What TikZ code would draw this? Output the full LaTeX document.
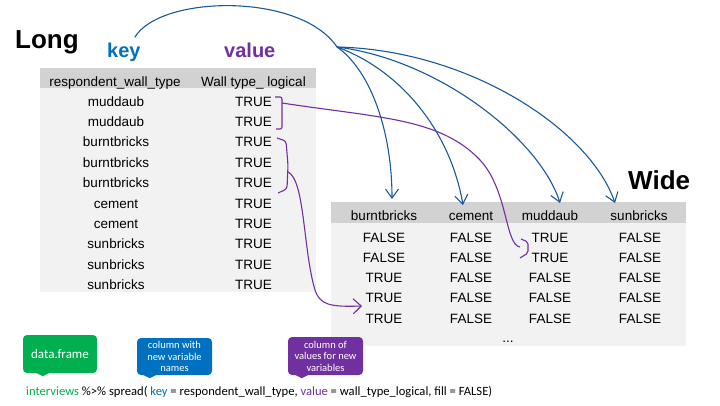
\documentclass[tikz,border=0pt]{standalone}
\usepackage{fontspec}
\setmainfont{Liberation Sans}
\newfontfamily\calfont{Carlito}
\usetikzlibrary{calc,arrows.meta}

\definecolor{keyblue}{RGB}{0,112,192}
\definecolor{linkblue}{RGB}{26,88,156}
\definecolor{valpurple}{RGB}{112,48,160}
\definecolor{dfgreen}{RGB}{0,176,80}
\definecolor{tablegray}{RGB}{242,242,242}
\definecolor{headgray}{RGB}{210,210,210}

\tikzset{
	tabtext/.style={anchor=base,inner sep=0pt,font=\fontsize{13.5}{16}\selectfont},
	bigtitle/.style={anchor=base west,inner sep=0pt,font=\fontsize{26}{30}\selectfont\bfseries},
	coltitle/.style={anchor=base west,inner sep=0pt,font=\fontsize{20}{24}\selectfont\bfseries},
	calloutbox/.style={rounded corners=4pt,text=white,align=center,inner sep=0pt,minimum width=75pt,minimum height=38pt,font=\calfont\fontsize{10.5}{11.5}\selectfont},
	keylink/.style={linkblue,line width=1.1pt},
	vallink/.style={valpurple,line width=1.1pt},
}

\begin{document}
\begin{tikzpicture}[x=1pt,y=-1pt]
				\useasboundingbox (0,0) rectangle (720,405);
				\fill[white] (0,0) rectangle (720,405);
				
				\node[bigtitle] (long) at (15,48) {Long};
				\node[bigtitle] (wide) at (628,189) {Wide};
				\node[coltitle,text=keyblue] (key) at (107,57) {key};
				\node[coltitle,text=valpurple] (value) at (224,57) {value};
				
				\fill[tablegray] (40,68) rectangle (316,292);
				\fill[headgray] (40,68) rectangle (316,88);
				\node[tabtext] (hkey) at (115,86) {respondent\_wall\_type};
				\node[tabtext] (hval) at (253.5,86) {Wall type\_ logical};
				\foreach \k [count=\i] in {muddaub,muddaub,burntbricks,burntbricks,burntbricks,cement,cement,sunbricks,sunbricks,sunbricks}{
					\node[tabtext] (k\i) at (116,{106+20.4*(\i-1)}) {\k};
					\node[tabtext] (v\i) at (253.5,{106+20.4*(\i-1)}) {TRUE};}
				
				\fill[tablegray] (331,202) rectangle (686,346);
				\fill[headgray] (331,202) rectangle (686,223);
				\foreach \h/\x [count=\i] in {burntbricks/384,cement/471,muddaub/550,sunbricks/639}{
					\node[tabtext] (h\i) at (\x,220) {\h};}
				\foreach \a/\b/\c/\d [count=\i] in {FALSE/FALSE/TRUE/FALSE,FALSE/FALSE/TRUE/FALSE,TRUE/FALSE/FALSE/FALSE,TRUE/FALSE/FALSE/FALSE,TRUE/FALSE/FALSE/FALSE}{
					\node[tabtext] (w\i a) at (384,{242+20.25*(\i-1)}) {\a};
					\node[tabtext] (w\i b) at (471,{242+20.25*(\i-1)}) {\b};
					\node[tabtext] (w\i c) at (550,{242+20.25*(\i-1)}) {\c};
					\node[tabtext] (w\i d) at (640,{242+20.25*(\i-1)}) {\d};}
				\node[tabtext] (dots) at (508,342) {...};
				
				\coordinate (J) at (337,47);
				\coordinate (tB) at (392,199);
				\coordinate (tC) at (463,205);
				\coordinate (tM) at (560,203);
				\coordinate (tS) at (615,203);
				
				\draw[keylink] ($(key.north east)+(-6,-5)$) .. controls (160,-5) and (300,-8) .. (J);
				\foreach \t/\p/\q in {tB/{(370,70)}/{(392,130)},tC/{(400,70)}/{(450,130)},tM/{(440,60)}/{(540,140)},tS/{(470,50)}/{(590,130)}}{
					\draw[keylink,-{Straight Barb[length=9pt,width=13pt]}] (J) .. controls \p and \q .. (\t);}
				
				\coordinate (b1) at (282,103);
				\coordinate (b2) at (288,172);
				\coordinate (m1) at (520,247);
				\coordinate (t5) at (362,306);
				
				\draw[vallink,rounded corners=2pt] (275,97) -- (282,97) -- (282,129) -- (276,129);
				\draw[vallink,rounded corners=3pt] (277,138) -- (286,141) -- (288,165) -- (287,189) -- (278,193);
				\draw[vallink,rounded corners=2pt] (521,239) -- (528,242) -- (528,253) -- (520,258);
				
				\draw[vallink] (b1) .. controls (380,118) and (440,118) .. (480,160) .. controls (508,190) and (505,245) .. (m1);
				\draw[vallink,-{Straight Barb[length=8pt,width=15pt]}] (b2) .. controls (305,180) and (303,250) .. (315,290) .. controls (320,305) and (330,307) .. (t5);
				
				\node[calloutbox,fill=dfgreen,minimum width=74pt,font=\calfont\fontsize{13}{15}\selectfont] (df) at (60,354) {data.frame};
				\node[calloutbox,fill=keyblue,minimum height=37pt] (keytag) at (174.5,356.5) {column with\\new variable\\names};
				\node[calloutbox,fill=valpurple] (valtag) at (325.5,356) {column of\\values for new\\variables};
				
				\foreach \x/\c/\s in {df/dfgreen/12,keytag/keyblue/5,valtag/valpurple/6}{
					\fill[\c] ($(\x.south west)+(\s,-1)$) -- ($(\x.south west)+(\s+16,-1)$) -- ($(\x.south west)+(\s+8,3)$) -- cycle;}
				
				\node[anchor=base west,inner sep=0pt,font=\calfont\fontsize{12.6}{14}\selectfont] (code) at (26,395) {\textcolor{dfgreen}{interviews} \%>\% spread( \textcolor{keyblue}{key} = respondent\_wall\_type, \textcolor{valpurple}{value} = wall\_type\_logical, fill = FALSE)};
			\end{tikzpicture}
\end{document}
